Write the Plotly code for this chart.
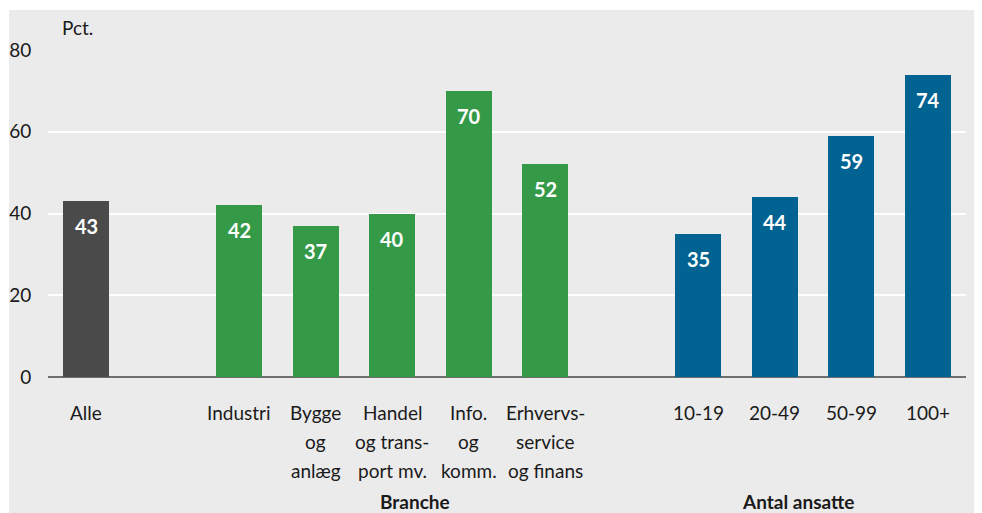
import plotly.graph_objects as go

# Data
categories = ["Alle", "Industri", "Bygge<br>og<br>anlæg", "Handel<br>og trans-<br>port mv.",
              "Info.<br>og<br>komm.", "Erhvervs-<br>service<br>og finans",
              "10-19", "20-49", "50-99", "100+"]
positions = [0, 2, 3, 4, 5, 6, 8, 9, 10, 11]
values = [43, 42, 37, 40, 70, 52, 35, 44, 59, 74]
groups = ["alle", "branche", "branche", "branche", "branche", "branche",
          "ansatte", "ansatte", "ansatte", "ansatte"]
group_labels = {"Branche": 4.3, "Antal ansatte": 9.3}
y_ticks = [0, 20, 40, 60, 80]

colors = {"alle": "#4a4a4a", "branche": "#359a48", "ansatte": "#006391"}
FONT = "Lato, Roboto, sans-serif"
SIZE = 19

fig = go.Figure()
fig.add_trace(go.Bar(
    x=positions, y=values,
    marker=dict(color=[colors[g] for g in groups], line=dict(width=0)),
    width=0.6, hoverinfo="skip",
))

annotations = []
# value labels
for x, v in zip(positions, values):
    annotations.append(dict(x=x, y=v, xref="x", yref="y", text=f"<b>{v}</b>",
                            showarrow=False, yanchor="top", yshift=-11,
                            font=dict(family=FONT, size=20, color="white")))
# category labels (line by line)
line_shifts = [-35, -64, -93]
for x, cat in zip(positions, categories):
    for i, line in enumerate(cat.split("<br>")):
        annotations.append(dict(x=x, y=0, xref="x", yref="paper", text=line,
                                showarrow=False, yanchor="middle", yshift=line_shifts[i],
                                font=dict(family=FONT, size=SIZE, color="#1a1a1a")))
for label, gx in group_labels.items():
    annotations.append(dict(x=gx, y=0, xref="x", yref="paper", text=f"<b>{label}</b>",
                            showarrow=False, yanchor="middle", yshift=-124,
                            font=dict(family=FONT, size=SIZE, color="#1a1a1a")))
annotations.append(dict(x=0.013, y=1.07, xref="paper", yref="paper", text="Pct.",
                        showarrow=False, xanchor="left", yanchor="middle",
                        font=dict(family=FONT, size=SIZE, color="#1a1a1a")))

fig.update_layout(
    width=982, height=513,
    margin=dict(l=40, r=24, t=42, b=144),
    paper_bgcolor="white",
    plot_bgcolor="#dcdcdc",
    showlegend=False,
    bargap=0,
    font=dict(family=FONT, size=SIZE, color="#1a1a1a"),
    annotations=annotations,
    shapes=[dict(type="rect", xref="paper", yref="paper",
                 x0=-0.0425, x1=1.05, y0=-0.6, y1=1.1223,
                 fillcolor="#ebebeb", line=dict(width=0), layer="below")],
    xaxis=dict(range=[-0.5, 11.5], showticklabels=False, showgrid=False,
               zeroline=False, fixedrange=True, automargin=False),
    yaxis=dict(range=[0, 80], tickvals=y_ticks, showgrid=True, gridcolor="white",
               gridwidth=2, zeroline=True, zerolinecolor="#6e6e6e", zerolinewidth=2,
               ticks="outside", ticklen=12, tickcolor="rgba(0,0,0,0)", automargin=False,
               tickfont=dict(family=FONT, size=SIZE, color="#1a1a1a"), fixedrange=True),
)

fig.write_html("out.html")
